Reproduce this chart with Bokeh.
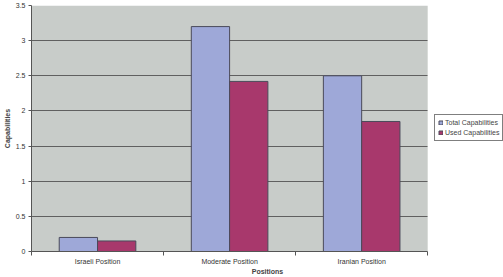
from bokeh.plotting import figure
from bokeh.models import (ColumnDataSource, FixedTicker, Legend, LegendItem, Range1d,
                          BoxAnnotation)
from bokeh.embed import file_html
from bokeh.resources import INLINE

categories = ["Israeli Position", "Moderate Position", "Iranian Position"]
total_capabilities = [0.2, 3.2, 2.5]
used_capabilities = [0.15, 2.42, 1.85]
y_ticks = [0, 0.5, 1, 1.5, 2, 2.5, 3, 3.5]

n = len(categories)
xc = [i + 0.5 for i in range(n)]
src = ColumnDataSource(dict(
    x_total=[x - 0.145 for x in xc],
    x_used=[x + 0.145 for x in xc],
    total=total_capabilities,
    used=used_capabilities,
))

p = figure(width=503, height=277, output_backend="svg", toolbar_location=None,
           x_range=Range1d(0, 3.574), y_range=Range1d(0, 3.5),
           min_border_left=30, min_border_top=5, min_border_right=0, min_border_bottom=20)
p.background_fill_color = "white"
p.border_fill_color = "white"
p.outline_line_color = None

bg = BoxAnnotation(left=0, right=n, bottom=0, top=3.5, fill_color="#c8ccc9",
                   fill_alpha=1, line_color=None, level="image")
p.add_layout(bg)

r1 = p.vbar(x="x_total", top="total", width=0.29, source=src,
            fill_color="#9ea8d8", line_color="#4a4a5a", line_width=1)
r2 = p.vbar(x="x_used", top="used", width=0.29, source=src,
            fill_color="#a8386c", line_color="#4a4a5a", line_width=1)

font = "Liberation Sans"

p.xaxis.bounds = (0, n)
p.xaxis.ticker = FixedTicker(ticks=xc, minor_ticks=list(range(n + 1)))
p.xaxis.major_label_overrides = {x: c for x, c in zip(xc, categories)}
p.xaxis.major_tick_line_color = None
p.xaxis.major_tick_out = 0
p.xaxis.major_tick_in = 0
p.xaxis.minor_tick_in = 0
p.xaxis.minor_tick_out = 4
p.xaxis.minor_tick_line_color = "#555555"
p.xaxis.axis_line_color = "#555555"
p.xaxis.axis_label = "Positions"
p.xaxis.axis_label_text_font = font
p.xaxis.axis_label_text_font_size = "7px"
p.xaxis.axis_label_text_font_style = "bold"
p.xaxis.axis_label_standoff = 0
p.xaxis.major_label_text_font = font
p.xaxis.major_label_text_font_size = "7px"
p.xaxis.major_label_text_color = "#333333"
p.xaxis.major_label_standoff = 2

p.yaxis.ticker = FixedTicker(ticks=y_ticks, minor_ticks=[])
p.yaxis.major_label_overrides = {t: ("%g" % t) for t in y_ticks}
p.yaxis.major_tick_in = 0
p.yaxis.major_tick_out = 3
p.yaxis.major_tick_line_color = "#555555"
p.yaxis.axis_line_color = "#555555"
p.yaxis.axis_label = "Capabilities"
p.yaxis.axis_label_text_font = font
p.yaxis.axis_label_text_font_size = "7px"
p.yaxis.axis_label_text_font_style = "bold"
p.yaxis.axis_label_standoff = 2
p.yaxis.major_label_text_font = font
p.yaxis.major_label_text_font_size = "7px"
p.yaxis.major_label_text_color = "#333333"
p.yaxis.major_label_standoff = 3

p.xgrid.grid_line_color = None
p.ygrid.ticker = FixedTicker(ticks=y_ticks)
p.ygrid.cross_bounds = (0, n)
p.ygrid.grid_line_color = "#606060"
p.ygrid.grid_line_width = 1

legend = Legend(items=[LegendItem(label="Total Capabilities", renderers=[r1]),
                       LegendItem(label="Used Capabilities", renderers=[r2])],
                location=(403, 110), margin=0, padding=3, spacing=1,
                label_text_font=font, label_text_font_size="7px",
                label_height=9, glyph_height=5, glyph_width=5, label_standoff=2,
                border_line_color="black", border_line_width=1,
                background_fill_color="white", background_fill_alpha=1)
p.add_layout(legend, "center")

open("out.html", "w").write(file_html(p, INLINE))
